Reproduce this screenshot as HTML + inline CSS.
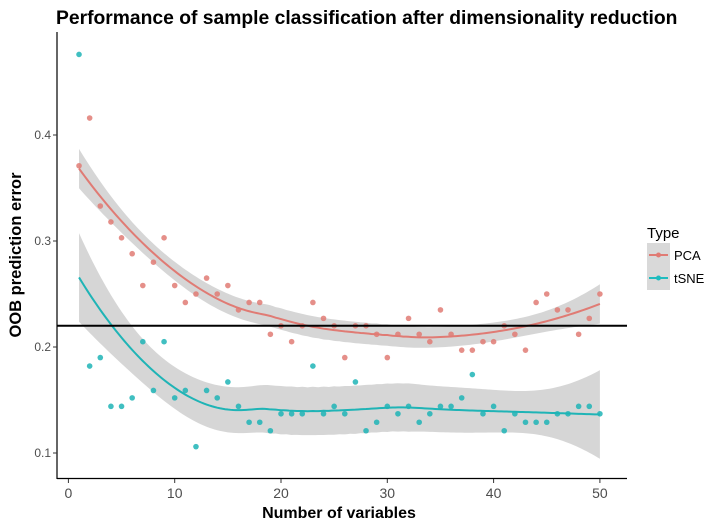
<!DOCTYPE html>
<html><head><meta charset="utf-8"><style>
body{margin:0;background:#fff;font-family:"Liberation Sans",Arial,sans-serif}
svg text{font-family:"Liberation Sans",Arial,sans-serif}
</style></head><body>
<svg id="chart" width="720" height="526" viewBox="0 0 720 526">
<text x="56" y="24" font-size="19.3" font-weight="bold" fill="#000">Performance of sample classification after dimensionality reduction</text>
<g id="bands"></g><g id="lines"></g><g id="pts"></g>
<line x1="57" x2="627" y1="326" y2="326" stroke="#000" stroke-width="2" id="hline"/>
<line x1="57" x2="57" y1="32" y2="479" stroke="#000" stroke-width="1.2"/>
<line x1="57" x2="627" y1="478.5" y2="478.5" stroke="#000" stroke-width="1.2"/>
<g id="axes"></g>
<text x="21" y="255" font-size="16.5" font-weight="bold" transform="rotate(-90 21 255)" text-anchor="middle">OOB prediction error</text>
<text x="339" y="518" font-size="16" font-weight="bold" text-anchor="middle">Number of variables</text>
<g>
<text x="647" y="238" font-size="15">Type</text>
<rect x="647" y="243" width="23" height="47" fill="#d9d9d9"/>
<g><line x1="649" x2="668" y1="255" y2="255" stroke="#e07b74" stroke-width="2"/><circle cx="658.5" cy="255" r="2.5" fill="#e07b74"/><text x="674" y="260" font-size="13">PCA</text></g>
<g><line x1="649" x2="668" y1="278" y2="278" stroke="#1fbcbf" stroke-width="2"/><circle cx="658.5" cy="278" r="2.5" fill="#1fbcbf"/><text x="674" y="283" font-size="13">tSNE</text></g>
</g>
</svg>
<script>
const xValues=[1,2,3,4,5,6,7,8,9,10,11,12,13,14,15,16,17,18,19,20,21,22,23,24,25,26,27,28,29,30,31,32,33,34,35,36,37,38,39,40,41,42,43,44,45,46,47,48,49,50];
const pcaValues=[0.371,0.416,0.333,0.318,0.303,0.288,0.258,0.280,0.303,0.258,0.242,0.250,0.265,0.250,0.258,0.235,0.242,0.242,0.212,0.220,0.205,0.220,0.242,0.227,0.220,0.190,0.220,0.220,0.212,0.190,0.212,0.227,0.212,0.205,0.235,0.212,0.197,0.197,0.205,0.205,0.220,0.212,0.197,0.242,0.250,0.235,0.235,0.212,0.227,0.250];
const tsneValues=[0.476,0.182,0.190,0.144,0.144,0.152,0.205,0.159,0.205,0.152,0.159,0.106,0.159,0.152,0.167,0.144,0.129,0.129,0.121,0.137,0.137,0.137,0.182,0.137,0.144,0.137,0.167,0.121,0.129,0.144,0.137,0.144,0.129,0.137,0.144,0.144,0.152,0.174,0.137,0.144,0.121,0.137,0.129,0.129,0.129,0.137,0.137,0.144,0.144,0.137];
const xTicks=[0,10,20,30,40,50];
const yTicks=[0.1,0.2,0.3,0.4];
const refValue=0.22;
const NS="http://www.w3.org/2000/svg";
const sx=v=>68.4+10.63*v, sy=v=>453-(v-0.1)*1060;
function mk(t,a,p){const e=document.createElementNS(NS,t);for(const k in a)e.setAttribute(k,a[k]);p.appendChild(e);return e;}
document.getElementById('hline').setAttribute('y1',sy(refValue));
document.getElementById('hline').setAttribute('y2',sy(refValue));
const ax=document.getElementById('axes');
xTicks.forEach(t=>{const l=mk('line',{x1:sx(t),x2:sx(t),y1:479,y2:483,stroke:'#333'},ax);


const tx=mk('text',{x:sx(t),y:498,'font-size':14,fill:'#4d4d4d','text-anchor':'middle'},ax);tx.textContent=t;

});
yTicks.forEach(t=>{const l=mk('line',{x1:53,x2:57,y1:sy(t),y2:sy(t),stroke:'#333'},ax);


const tx=mk('text',{x:51,y:sy(t)+4,'font-size':12,fill:'#4d4d4d','text-anchor':'end'},ax);tx.textContent=t.toFixed(1);

});
function solve3(A,b){const M=A.map((r,i)=>[...r,b[i]]);for(let i=0;i<3;i++){let p=i;for(let j=i+1;j<3;j++)if(Math.abs(M[j][i])>Math.abs(M[p][i]))p=j;[M[i],M[p]]=[M[p],M[i]];for(let j=0;j<3;j++)if(j!==i){const f=M[j][i]/M[i][i];for(let k=i;k<4;k++)M[j][k]-=f*M[i][k];}}return M.map((r,i)=>r[3]/r[i]);}
function loessW(xs,x0,span){const n=xs.length,q=Math.floor(span*n);const d=xs.map(x=>Math.abs(x-x0)).sort((a,b)=>a-b);const h=d[q-1]*1.0001;
const w=xs.map(x=>{const u=Math.abs(x-x0)/h;return u<1?Math.pow(1-u*u*u,3):0;});
const A=[[0,0,0],[0,0,0],[0,0,0]];xs.forEach((x,i)=>{const v=[1,x-x0,(x-x0)**2];for(let a=0;a<3;a++)for(let b=0;b<3;b++)A[a][b]+=w[i]*v[a]*v[b];});
const inv=[];for(let c=0;c<3;c++){const e=[0,0,0];e[c]=1;inv.push(solve3(A,e));}
return xs.map((x,i)=>{const v=[1,x-x0,(x-x0)**2];let s=0;for(let b=0;b<3;b++)s+=inv[b][0]*v[b];return s*w[i];});}
function smooth(ys){const fitted=xValues.map(x0=>{const l=loessW(xValues,x0,0.75);return l.reduce((s,li,i)=>s+li*ys[i],0);});
const rss=ys.reduce((s,y,i)=>s+(y-fitted[i])**2,0);const sigma=Math.sqrt(rss/(ys.length-5));
const out=[];for(let x0=xValues[0];x0<=xValues[xValues.length-1]+1e-9;x0+=0.25){const l=loessW(xValues,x0,0.75);const f=l.reduce((s,li,i)=>s+li*ys[i],0);const se=sigma*Math.sqrt(l.reduce((s,li)=>s+li*li,0));out.push([x0,f,se*2.0]);}return out;}
function draw(ys,col,name){const sm=smooth(ys);
const up=sm.map(p=>sx(p[0])+','+sy(p[1]+p[2])),lo=sm.slice().reverse().map(p=>sx(p[0])+','+sy(p[1]-p[2]));
const b=mk('polygon',{points:up.concat(lo).join(' '),fill:'#999','fill-opacity':0.4},document.getElementById('bands'));


const l=mk('polyline',{points:sm.map(p=>sx(p[0])+','+sy(p[1])).join(' '),fill:'none',stroke:col,'stroke-width':2},document.getElementById('lines'));


ys.forEach((y,i)=>{const c=mk('circle',{cx:sx(xValues[i]),cy:sy(y),r:2.8,fill:col,'fill-opacity':0.85},document.getElementById('pts'));

});}
draw(pcaValues,'#e07b74','pca');
draw(tsneValues,'#1fb4b6','tsne');
</script>
</body></html>
